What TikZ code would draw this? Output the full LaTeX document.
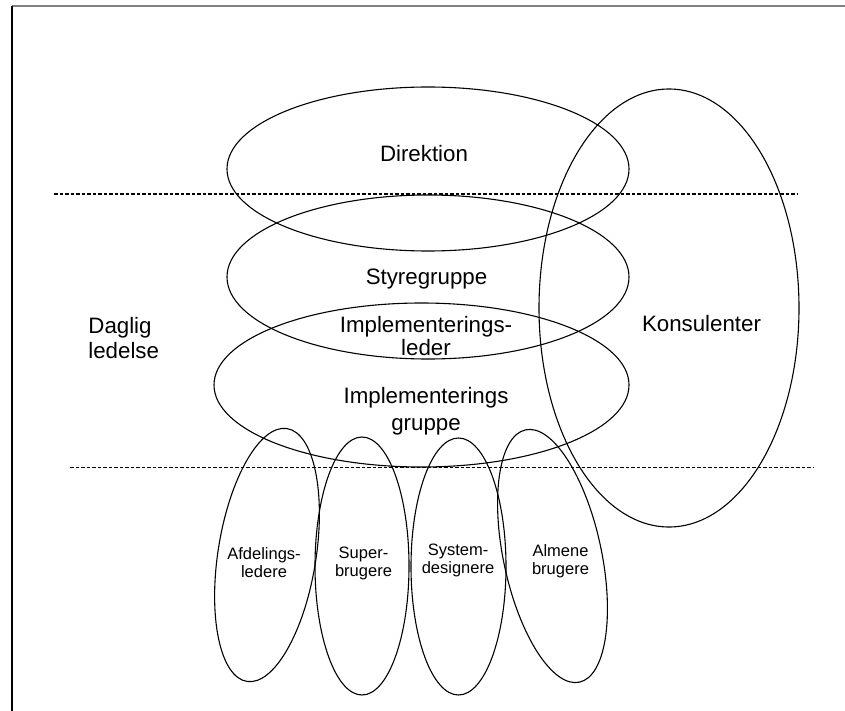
\documentclass[tikz,border=0pt]{standalone}
\usepackage{fontspec}
\setmainfont{Liberation Sans}
\usepackage{tikz}

\begin{document}
\begin{tikzpicture}[x=0.5pt,y=-0.5pt,
    ring/.style={line width=0.55pt},
    divider/.style={line width=0.55pt,dash pattern=on 1.75pt off 1pt},
    big/.style={inner sep=0pt,align=center,font=\fontsize{11.15}{#1}\selectfont},
    big/.default=12,
    small/.style={inner sep=0pt,align=center,anchor=north,font=\fontsize{8.25}{9.25}\selectfont}]
    \useasboundingbox (0,0) rectangle (845,711);
    % page frame (top and left edge only)
    \draw[gray,line width=1pt] (12,6) -- (845,6);
    \draw[line width=0.6pt] (12,6) -- (12,711);
    % level dividers
    \draw[divider] (54,194) -- (798,194);
    \draw[divider] (70,467.5) -- (813,467.5);
    % upper groups
    \draw[ring] (428,169) ellipse [x radius=201, y radius=82];
    \draw[ring] (428,277) ellipse [x radius=201, y radius=82];
    \draw[ring] (421.5,385) ellipse [x radius=207.5, y radius=82];
    % consultants
    \draw[ring] (669,308) ellipse [x radius=130, y radius=219];
    % user groups
    \draw[ring,shift={(267,555)},rotate=-9] (0,0) ellipse [x radius=49, y radius=128];
    \draw[ring] (362,566) ellipse [x radius=47, y radius=129];
    \draw[ring] (458.5,566.5) ellipse [x radius=47.5, y radius=128.5];
    \draw[ring,shift={(552.5,556)},rotate=12] (0,0) ellipse [x radius=49, y radius=129];
    % labels
    \node[big,anchor=base] (direktion) at (424,162) {Direktion};
    \node[big,anchor=base] (styre) at (426.5,284) {Styregruppe};
    \node[big=11.65,anchor=north] (impleder) at (426,315.4) {\strut Implementerings-\\\strut leder};
    \node[big=13.35,anchor=north] (impgruppe) at (426,384.6) {\strut Implementerings\\\strut gruppe};
    \node[big=12.65,anchor=north west,align=left] (daglig) at (88,315) {\strut Daglig\\\strut ledelse};
    \node[big,anchor=base] (konsulent) at (701.5,331.7) {Konsulenter};
    \node[small] (afdeling) at (264,546) {\strut Afdelings-\\\strut ledere};
    \node[small] (super) at (363.5,545) {\strut Super-\\\strut brugere};
    \node[small] (system) at (458,542) {\strut System-\\\strut designere};
    \node[small] (almene) at (560.5,543) {\strut Almene\\\strut brugere};
\end{tikzpicture}
\end{document}
